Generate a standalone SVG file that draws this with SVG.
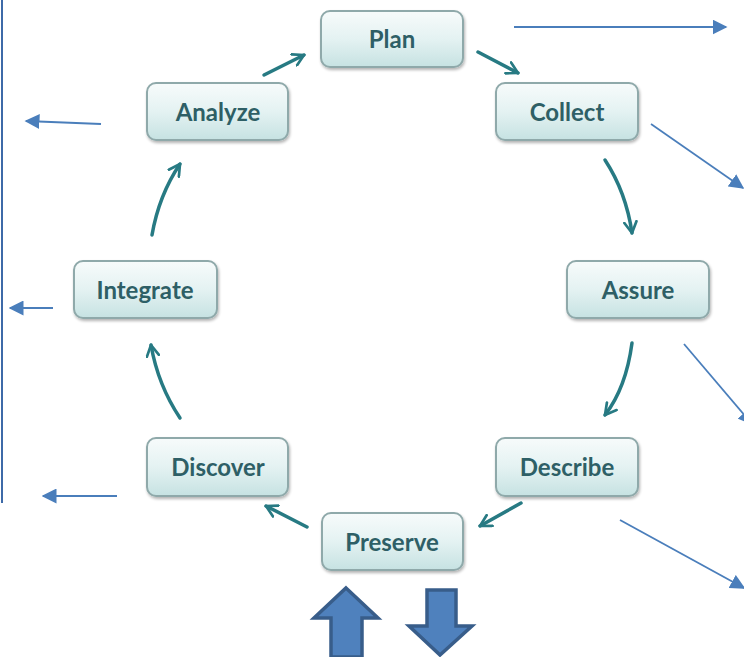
<svg xmlns="http://www.w3.org/2000/svg" width="744" height="657" viewBox="0 0 744 657">
<defs>
<linearGradient id="g" x1="0" y1="0" x2="0" y2="1">
<stop offset="0" stop-color="#f7fbfb"/>
<stop offset="0.5" stop-color="#e4f2f2"/>
<stop offset="1" stop-color="#c6e2e2"/>
</linearGradient>
<filter id="sh" x="-10%" y="-10%" width="125%" height="135%">
<feGaussianBlur in="SourceAlpha" stdDeviation="1.5"/>
<feOffset dx="1" dy="2" result="b"/>
<feComponentTransfer><feFuncA type="linear" slope="0.3"/></feComponentTransfer>
<feMerge><feMergeNode/><feMergeNode in="SourceGraphic"/></feMerge>
</filter>
<marker id="ta" viewBox="0 0 12 12" refX="10" refY="6" markerWidth="4.2" markerHeight="4.2" orient="auto" markerUnits="strokeWidth">
<polyline points="1,1 10,6 1,11" fill="none" stroke="#277a83" stroke-width="2.2" stroke-linecap="round" stroke-linejoin="round"/>
</marker>
<marker id="ba" viewBox="0 0 10 10" refX="9" refY="5" markerWidth="15" markerHeight="15" orient="auto" markerUnits="userSpaceOnUse">
<path d="M0,0 L10,5 L0,10 Z" fill="#4a7ebb"/>
</marker>
</defs>
<style>
.box{fill:url(#g);stroke:#8fa9aa;stroke-width:2;filter:url(#sh)}
.lbl{font-family:Lato,"Open Sans",sans-serif;font-weight:bold;font-size:24px;fill:#2e5f66;text-anchor:middle}
.cyc{fill:none;stroke:#277a83;stroke-width:3.5;stroke-linecap:round;marker-end:url(#ta)}
.blu{fill:none;stroke:#4a7ebb;stroke-width:1.8;marker-end:url(#ba)}
.big{fill:#4f81bd;stroke:#385d8a;stroke-width:3.5}
</style>
<line x1="2" y1="0" x2="2" y2="503" stroke="#3e6aa8" stroke-width="2"/>
<g id="node-plan"><rect class="box" x="321" y="11" width="142" height="56" rx="9"/><text class="lbl" x="392" y="48">Plan</text></g>
<g id="node-collect"><rect class="box" x="496" y="83" width="142" height="57" rx="9"/><text class="lbl" x="567" y="121">Collect</text></g>
<g id="node-assure"><rect class="box" x="567" y="261" width="142" height="57" rx="9"/><text class="lbl" x="638" y="299">Assure</text></g>
<g id="node-describe"><rect class="box" x="496" y="438" width="142" height="58" rx="9"/><text class="lbl" x="567" y="476">Describe</text></g>
<g id="node-preserve"><rect class="box" x="322" y="513" width="141" height="57" rx="9"/><text class="lbl" x="392" y="551">Preserve</text></g>
<g id="node-discover"><rect class="box" x="147" y="438" width="141" height="58" rx="9"/><text class="lbl" x="218" y="476">Discover</text></g>
<g id="node-integrate"><rect class="box" x="74" y="261" width="143" height="57" rx="9"/><text class="lbl" x="145" y="299">Integrate</text></g>
<g id="node-analyze"><rect class="box" x="147" y="83" width="141" height="57" rx="9"/><text class="lbl" x="218" y="121">Analyze</text></g>
<g id="connectors">
<path class="cyc" d="M264,75 L304,55"/>
<path class="cyc" d="M478,52 L518,73"/>
<path class="cyc" d="M605,160 Q626,192 632,233"/>
<path class="cyc" d="M632,343 Q626,388 605,415"/>
<path class="cyc" d="M521,503 L480,526"/>
<path class="cyc" d="M307,527 L266,506"/>
<path class="cyc" d="M180,418 Q158,385 151,345"/>
<path class="cyc" d="M152,235 Q159,195 180,164"/>
<path class="blu" d="M514,27 L726,27"/>
<path class="blu" d="M651,124 L743,188"/>
<path class="blu" d="M684,344 L752,424"/>
<path class="blu" d="M620,520 L744,588"/>
<path class="blu" d="M101,124 L26,121"/>
<path class="blu" d="M53,308 L10,308"/>
<path class="blu" d="M117,496 L43,496"/>
<polygon class="big" points="346,588 378,618 362,618 362,657 331,657 331,618 314,618"/>
<polygon class="big" points="427,590 456,590 456,626 472,626 440,655 409,626 427,626"/>
</g>
</svg>
